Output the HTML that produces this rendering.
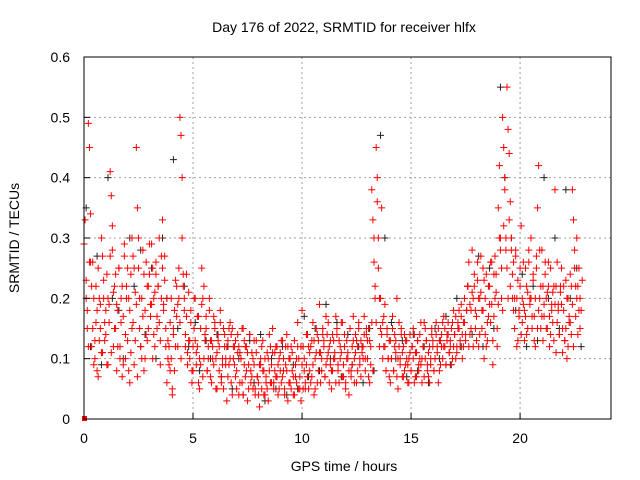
<!DOCTYPE html>
<html><head><meta charset="utf-8"><style>
html,body{margin:0;padding:0;background:#fff;}
svg{display:block;font-family:"Liberation Sans",sans-serif;}
</style></head><body>
<svg id="chart" width="640" height="480" xmlns="http://www.w3.org/2000/svg">
<rect x="0" y="0" width="640" height="480" fill="#fff"/>
<text x="344" y="32" font-size="14" text-anchor="middle">Day 176 of 2022, SRMTID for receiver hlfx</text>
<g id="grid"></g>
<g id="black-series"></g>
<g id="red-series"></g>
<rect x="84" y="57" width="527" height="362" fill="none" stroke="#000" stroke-width="1"/>
<g id="ticks"></g>
<text x="344" y="471" font-size="14" text-anchor="middle">GPS time / hours</text>
<text x="19" y="238" font-size="14" text-anchor="middle" transform="rotate(-90 19 238)">SRMTID / TECUs</text>
</svg>
<script>
const xTicks = [0, 5, 10, 15, 20];
const yTicks = [0, 0.1, 0.2, 0.3, 0.4, 0.5, 0.6];
const yTickLabels = ["0", "0.1", "0.2", "0.3", "0.4", "0.5", "0.6"];
const redStep = 0.2;
const redVals = [
[0.29,0.33,0.2,0.15],[0.49,0.45,0.26,0.12],[0.26,0.2,0.1,0.16],[0.08,0.25,0.13,0.19],[0.3,0.11,0.2,0.16],
[0.14,0.24,0.09,0.19],[0.41,0.37,0.28,0.12],[0.22,0.15,0.08,0.18],[0.25,0.12,0.2,0.07],[0.17,0.27,0.1,0.22],
[0.13,0.2,0.06,0.24],[0.3,0.16,0.09,0.21],[0.45,0.35,0.25,0.15],[0.12,0.2,0.28,0.08],[0.18,0.26,0.13,0.22],
[0.24,0.17,0.29,0.1],[0.2,0.12,0.26,0.15],[0.22,0.16,0.09,0.27],[0.33,0.19,0.23,0.12],[0.06,0.13,0.09,0.16],
[0.1,0.05,0.14,0.18],[0.23,0.17,0.12,0.2],[0.5,0.47,0.3,0.22],[0.2,0.14,0.24,0.09],[0.13,0.1,0.18,0.06],
[0.08,0.15,0.2,0.11],[0.12,0.17,0.05,0.09],[0.25,0.2,0.1,0.14],[0.15,0.08,0.12,0.2],[0.07,0.13,0.1,0.17],
[0.16,0.1,0.05,0.13],[0.12,0.18,0.07,0.09],[0.05,0.14,0.1,0.03],[0.13,0.09,0.16,0.06],[0.15,0.1,0.12,0.07],
[0.08,0.14,0.04,0.11],[0.1,0.06,0.15,0.13],[0.07,0.12,0.03,0.09],[0.14,0.08,0.11,0.05],[0.09,0.05,0.13,0.07],
[0.06,0.02,0.1,0.12],[0.13,0.08,0.04,0.07],[0.05,0.1,0.14,0.06],[0.09,0.15,0.06,0.11],[0.07,0.12,0.04,0.1],
[0.11,0.06,0.13,0.08],[0.05,0.09,0.14,0.03],[0.1,0.06,0.12,0.08],[0.04,0.13,0.07,0.1],[0.16,0.1,0.05,0.03],
[0.18,0.12,0.08,0.06],[0.09,0.14,0.05,0.11],[0.12,0.07,0.16,0.04],[0.1,0.15,0.06,0.13],[0.19,0.11,0.08,0.14],
[0.13,0.07,0.17,0.1],[0.16,0.12,0.09,0.05],[0.08,0.13,0.1,0.17],[0.15,0.09,0.06,0.12],[0.11,0.16,0.07,0.14],
[0.06,0.13,0.1,0.04],[0.15,0.08,0.12,0.17],[0.1,0.14,0.06,0.12],[0.16,0.09,0.13,0.11],[0.12,0.17,0.08,0.14],
[0.1,0.15,0.06,0.12],[0.38,0.33,0.3,0.2],[0.45,0.4,0.25,0.12],[0.2,0.14,0.1,0.17],[0.12,0.08,0.15,0.1],
[0.13,0.06,0.1,0.17],[0.08,0.14,0.11,0.2],[0.05,0.12,0.09,0.15],[0.11,0.07,0.14,0.09],[0.13,0.09,0.06,0.11],
[0.08,0.12,0.15,0.06],[0.11,0.07,0.13,0.09],[0.14,0.09,0.06,0.12],[0.16,0.1,0.13,0.08],[0.07,0.12,0.09,0.15],
[0.13,0.08,0.1,0.16],[0.11,0.15,0.08,0.13],[0.14,0.1,0.17,0.12],[0.09,0.13,0.16,0.11],[0.12,0.15,0.1,0.18],
[0.14,0.17,0.11,0.16],[0.15,0.12,0.19,0.1],[0.16,0.2,0.13,0.18],[0.22,0.26,0.14,0.18],[0.28,0.2,0.24,0.15],
[0.17,0.23,0.12,0.2],[0.21,0.15,0.25,0.1],[0.2,0.24,0.13,0.17],[0.22,0.16,0.26,0.09],[0.17,0.27,0.21,0.12],
[0.35,0.42,0.3,0.25],[0.5,0.45,0.38,0.28],[0.55,0.48,0.33,0.22],[0.3,0.24,0.18,0.15],[0.27,0.2,0.13,0.17],
[0.22,0.32,0.16,0.19],[0.18,0.25,0.14,0.21],[0.26,0.2,0.3,0.15],[0.23,0.17,0.12,0.27],[0.35,0.42,0.2,0.15],
[0.28,0.22,0.17,0.24],[0.2,0.15,0.26,0.12],[0.25,0.18,0.21,0.13],[0.38,0.22,0.16,0.19],[0.14,0.21,0.25,0.11],
[0.18,0.13,0.23,0.1],[0.2,0.16,0.24,0.14],[0.38,0.33,0.25,0.17],[0.3,0.22,0.18,0.15]
];
const redVals2 = [
[0.23,0.18,0.12,0.26],[0.34,0.22,0.15,0.09],[0.13,0.22,0.18,0.07],[0.2,0.15,0.11,0.27],[0.23,0.13,0.18,0.09],
[0.2,0.16,0.27,0.11],[0.32,0.21,0.15,0.24],[0.19,0.12,0.25,0.1],[0.16,0.22,0.09,0.29],[0.14,0.2,0.25,0.08],
[0.18,0.11,0.15,0.27],[0.25,0.13,0.19,0.07],[0.3,0.2,0.12,0.1],[0.17,0.24,0.1,0.14],[0.22,0.15,0.29,0.19],
[0.19,0.25,0.14,0.21],[0.24,0.17,0.22,0.3],[0.13,0.2,0.25,0.18],[0.27,0.15,0.2,0.1],[0.12,0.08,0.2,0.04],
[0.15,0.08,0.12,0.22],[0.19,0.25,0.16,0.1],[0.4,0.24,0.18,0.12],[0.17,0.11,0.21,0.13],[0.16,0.08,0.12,0.2],
[0.13,0.09,0.17,0.06],[0.1,0.15,0.19,0.07],[0.22,0.13,0.17,0.08],[0.1,0.18,0.13,0.06],[0.12,0.09,0.15,0.05],
[0.11,0.14,0.08,0.16],[0.06,0.1,0.15,0.12],[0.09,0.12,0.07,0.15],[0.1,0.14,0.04,0.12],[0.09,0.13,0.05,0.11],
[0.12,0.06,0.1,0.15],[0.04,0.09,0.12,0.08],[0.11,0.05,0.14,0.06],[0.07,0.1,0.13,0.04],[0.11,0.07,0.04,0.09],
[0.09,0.05,0.08,0.04],[0.1,0.06,0.11,0.03],[0.08,0.12,0.06,0.11],[0.05,0.08,0.12,0.07],[0.09,0.05,0.08,0.13],
[0.07,0.1,0.04,0.12],[0.08,0.12,0.06,0.1],[0.05,0.11,0.07,0.04],[0.09,0.06,0.12,0.05],[0.07,0.12,0.09,0.05],
[0.1,0.05,0.14,0.07],[0.12,0.08,0.06,0.13],[0.09,0.13,0.05,0.11],[0.14,0.08,0.11,0.06],[0.1,0.15,0.12,0.07],
[0.09,0.14,0.11,0.06],[0.13,0.08,0.14,0.1],[0.11,0.06,0.14,0.08],[0.13,0.1,0.16,0.07],[0.09,0.12,0.05,0.1],
[0.11,0.08,0.15,0.07],[0.09,0.13,0.06,0.11],[0.13,0.08,0.15,0.1],[0.07,0.12,0.1,0.14],[0.1,0.15,0.13,0.07],
[0.13,0.09,0.16,0.08],[0.26,0.22,0.16,0.36],[0.3,0.2,0.15,0.35],[0.16,0.12,0.19,0.08],[0.14,0.1,0.07,0.13],
[0.1,0.15,0.08,0.12],[0.13,0.07,0.1,0.16],[0.1,0.14,0.07,0.12],[0.08,0.13,0.1,0.06],[0.1,0.14,0.08,0.12],
[0.1,0.14,0.07,0.11],[0.13,0.08,0.1,0.16],[0.1,0.12,0.07,0.15],[0.13,0.09,0.11,0.06],[0.1,0.14,0.12,0.08],
[0.1,0.14,0.12,0.06],[0.13,0.09,0.12,0.16],[0.12,0.15,0.09,0.14],[0.14,0.11,0.13,0.09],[0.16,0.12,0.14,0.1],
[0.12,0.15,0.18,0.13],[0.17,0.14,0.12,0.16],[0.14,0.18,0.22,0.12],[0.19,0.15,0.21,0.12],[0.22,0.18,0.13,0.26],
[0.2,0.14,0.27,0.18],[0.18,0.23,0.14,0.12],[0.16,0.22,0.19,0.26],[0.19,0.13,0.24,0.2],[0.24,0.15,0.19,0.3],
[0.28,0.2,0.18,0.32],[0.4,0.3,0.25,0.2],[0.44,0.36,0.28,0.2],[0.26,0.2,0.28,0.12],[0.23,0.18,0.25,0.14],
[0.2,0.26,0.13,0.17],[0.22,0.15,0.28,0.19],[0.2,0.17,0.24,0.13],[0.2,0.25,0.15,0.18],[0.28,0.22,0.17,0.13],
[0.19,0.26,0.15,0.21],[0.22,0.17,0.14,0.19],[0.16,0.22,0.19,0.11],[0.26,0.18,0.14,0.22],[0.19,0.15,0.22,0.13],
[0.15,0.2,0.12,0.17],[0.16,0.22,0.19,0.12],[0.28,0.22,0.2,0.14],[0.25,0.2,0.18,0.23]
];
const blackStep = 0.5;
const blackVals = [
[0.35,0.12],[0.27,0.09],[0.4,0.2],[0.18,0.1],[0.3,0.22],[0.28,0.14],[0.25,0.1],[0.3,0.2],[0.43,0.15],[0.22,0.12],
[0.16,0.08],[0.13,0.1],[0.14,0.07],[0.12,0.05],[0.1,0.04],[0.13,0.06],[0.14,0.03],[0.1,0.05],[0.12,0.04],[0.09,0.05],
[0.17,0.07],[0.15,0.08],[0.19,0.1],[0.16,0.07],[0.14,0.09],[0.12,0.06],[0.15,0.08],[0.47,0.3],[0.16,0.1],[0.13,0.07],
[0.14,0.08],[0.12,0.06],[0.15,0.1],[0.17,0.09],[0.2,0.12],[0.22,0.14],[0.27,0.12],[0.25,0.15],[0.55,0.4],[0.3,0.18],
[0.24,0.12],[0.22,0.13],[0.4,0.2],[0.3,0.15],[0.38,0.2],[0.25,0.12]
];
const NS = "http://www.w3.org/2000/svg";
const X0 = 84, X1 = 611, Y0 = 419, Y1 = 57, XMAX = 24.17, YMAX = 0.6;
function sx(t){ return X0 + (X1 - X0) * t / XMAX; }
function sy(v){ return Y0 - (Y0 - Y1) * v / YMAX; }
const grid = document.getElementById('grid');
const ticks = document.getElementById('ticks');
function mk(tag, attrs, parent){ const e = document.createElementNS(NS, tag); for (const k in attrs) e.setAttribute(k, attrs[k]); parent.appendChild(e); return e; }
xTicks.forEach(t => {
  const x = sx(t);
  if (t > 0) {
    const g = mk('line', {x1:x, x2:x, y1:Y0, y2:Y1, stroke:'#a0a0a0', 'stroke-dasharray':'2,3', 'stroke-width':1}, grid);
    
    
  }
  const tk = mk('line', {x1:x, x2:x, y1:Y0, y2:Y0-6, stroke:'#000'}, ticks);
  
  
  const lb = mk('text', {x:x, y:Y0+24, 'font-size':14, 'text-anchor':'middle'}, ticks);
  lb.textContent = String(t);
  
  
});
yTicks.forEach((v, i) => {
  const y = sy(v);
  if (v > 0 && v < YMAX) {
    const g = mk('line', {x1:X0, x2:X1, y1:y, y2:y, stroke:'#a0a0a0', 'stroke-dasharray':'2,3', 'stroke-width':1}, grid);
    
    
  }
  const tk = mk('line', {x1:X0, x2:X0+6, y1:y, y2:y, stroke:'#000'}, ticks);
  
  
  const lb = mk('text', {x:X0-14, y:y+5, 'font-size':14, 'text-anchor':'end'}, ticks);
  lb.textContent = yTickLabels[i];
  
  
});
function plus(parent, t, v, color, name){
  const x = sx(t), y = sy(v);
  const p = mk('path', {d:'M'+(x-3.5)+' '+y+'H'+(x+3.5)+'M'+x+' '+(y-3.5)+'V'+(y+3.5), stroke:color, 'stroke-width':1, fill:'none'}, parent);
  
  
}
const bg = document.getElementById('black-series');
blackVals.forEach((grp, i) => grp.forEach((v, k) => plus(bg, i*blackStep + k*0.2 + 0.1, v, '#222', 'black-point')));
const rg = document.getElementById('red-series');
redVals.forEach((grp, i) => grp.forEach((v, k) => plus(rg, i*redStep + k*0.05, v, '#f00', 'red-point')));
redVals2.forEach((grp, i) => grp.forEach((v, k) => plus(rg, i*redStep + k*0.05 + 0.1, v, '#f00', 'red-point')));
const sq = mk('rect', {x:sx(0)-2, y:sy(0)-3, width:5, height:5, fill:'#f00'}, rg);


</script>
</body></html>
